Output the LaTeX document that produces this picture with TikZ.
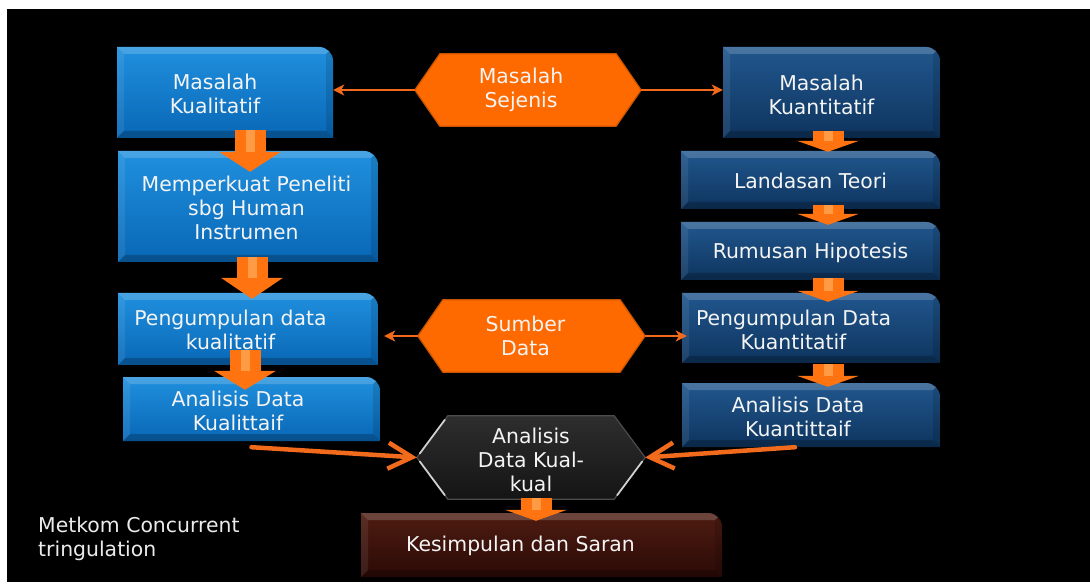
\documentclass[tikz,border=0pt]{standalone}
\usepackage{fontspec}
\setmainfont{DejaVu Sans}
\usetikzlibrary{arrows.meta,backgrounds,calc}
\definecolor{LBt}{HTML}{2090DE}
\definecolor{LBb}{HTML}{0867B6}
\definecolor{DBt}{HTML}{21578E}
\definecolor{DBb}{HTML}{0E345E}
\definecolor{BRt}{HTML}{4E1C12}
\definecolor{BRb}{HTML}{2B0A06}
\definecolor{OR}{HTML}{FF6A00}
\definecolor{ORd}{HTML}{C85400}
\definecolor{ARO}{HTML}{FF7410}
\definecolor{ARH}{HTML}{FF9A45}
\definecolor{LN}{HTML}{F26B1D}
\definecolor{TX}{HTML}{F4F4F4}
\tikzset{
  txt/.style={text=TX, align=center, font=\fontsize{20.4pt}{24pt}\selectfont, inner sep=0pt},
  bevelbox/.style n args={2}{inner sep=0pt, path picture={
     \path (path picture bounding box.south west) coordinate (bbsw)
           (path picture bounding box.north west) coordinate (bbnw)
           (path picture bounding box.north east) coordinate (bbne)
           (path picture bounding box.south east) coordinate (bbse);
     \begin{scope}
       \clip (bbsw) -- (bbnw) -- ([xshift=-14pt]bbne) arc[start angle=90,end angle=0,radius=14pt] -- (bbse) -- cycle;
       \shade[top color=#1, bottom color=#2] (bbsw) rectangle (bbne);
       \fill[white,opacity=.18] (bbnw) -- (bbne) -- ([shift={(-7pt,-7pt)}]bbne) -- ([shift={(7pt,-7pt)}]bbnw) -- cycle;
       \fill[white,opacity=.08] (bbnw) -- ([shift={(7pt,-7pt)}]bbnw) -- ([shift={(7pt,7pt)}]bbsw) -- (bbsw) -- cycle;
       \fill[black,opacity=.12] (bbne) -- (bbse) -- ([shift={(-7pt,7pt)}]bbse) -- ([shift={(-7pt,-7pt)}]bbne) -- cycle;
       \fill[black,opacity=.22] (bbsw) -- ([shift={(7pt,7pt)}]bbsw) -- ([shift={(-7pt,7pt)}]bbse) -- (bbse) -- cycle;
     \end{scope}
  }},
  lbox/.style={bevelbox={LBt}{LBb}},
  dbox/.style={bevelbox={DBt}{DBb}},
  brbox/.style={bevelbox={BRt}{BRb}},
  hexn/.style={inner sep=0pt},
  hexo/.style={fill=OR, draw=ORd, line width=1.2pt, line join=miter},
  hexk/.style={top color=black!82, bottom color=black!92, draw=black!70, line width=1.2pt},
  gloss/.style={white, opacity=.75, line width=1.8pt, line cap=round, shorten <=5pt, shorten >=5pt},
  thinarr/.style={draw=LN, line width=2.4pt, -{Stealth[length=11pt,width=11pt,inset=3pt]}},
  thickarr/.style={draw=LN, line width=4.5pt, line cap=round, -{Straight Barb[length=24pt,width=26pt]}},
  blk/.style={draw=ARO, line width=31pt, -{Triangle[length=#1,width=62pt,line width=0pt]},
              postaction={draw=ARH, line width=9pt, -, shorten >=#1}},
}
\begin{document}
\begin{tikzpicture}[x=1pt,y=1pt]
\path[use as bounding box] (0,0) rectangle (1090,-585);

% boxes
\node[lbox, minimum width=216pt, minimum height=91pt, label={[txt,xshift=-10pt,yshift=-1pt]center:Masalah\\Kualitatif}] (mql) at (225,-92.5) {};
\node[lbox, minimum width=260pt, minimum height=111pt, label={[txt,xshift=-1.5pt,yshift=-1.5pt]center:Memperkuat Peneliti\\sbg Human\\Instrumen}] (mpk) at (248,-206.5) {};
\node[lbox, minimum width=260pt, minimum height=72pt, label={[txt,xshift=-17.5pt,yshift=-1pt]center:Pengumpulan data\\kualitatif}] (pkl) at (248,-329) {};
\node[lbox, minimum width=257pt, minimum height=64pt, label={[txt,xshift=-13.5pt,yshift=-2pt]center:Analisis Data\\Kualittaif}] (akl) at (251.5,-409) {};
\node[dbox, minimum width=217pt, minimum height=91pt, label={[txt,xshift=-10pt,yshift=-2pt]center:Masalah\\Kuantitatif}] (mqn) at (831.5,-92.5) {};
\node[dbox, minimum width=259pt, minimum height=58pt, label={[txt,yshift=-1pt]center:Landasan Teori}] (lt) at (810.5,-180) {};
\node[dbox, minimum width=259pt, minimum height=58pt, label={[txt,yshift=-2pt]center:Rumusan Hipotesis}] (rh) at (810.5,-251) {};
\node[dbox, minimum width=258pt, minimum height=70pt, label={[txt,xshift=-17.5pt,yshift=-2pt]center:Pengumpulan Data\\Kuantitatif}] (pqn) at (811,-328) {};
\node[dbox, minimum width=258pt, minimum height=64pt, label={[txt,xshift=-13pt,yshift=-2pt]center:Analisis Data\\Kuantittaif}] (aqn) at (811,-415) {};
\node[brbox, minimum width=361pt, minimum height=64pt, label={[txt,xshift=-21pt,yshift=-1pt]center:Kesimpulan dan Saran}] (ks) at (541.5,-545) {};

% hexagon nodes
\node[hexn, minimum width=226pt, minimum height=72pt, label={[txt,xshift=-7pt]center:Masalah\\Sejenis}] (msj) at (528,-90) {};
\node[hexn, minimum width=227pt, minimum height=72pt, label={[txt,xshift=-6pt]center:Sumber\\Data}] (sd) at (531.5,-336) {};
\node[hexn, minimum width=228pt, minimum height=83pt, label={[txt,yshift=-2pt]center:Analisis\\Data Kual-\\kual}] (akk) at (531,-457.5) {};

\node[txt, align=left, anchor=west, text=black!8] (note) at (38,-539) {Metkom Concurrent\\tringulation};

\begin{scope}[on background layer]
  \fill[white] (0,0) rectangle (1090,-585);
  \fill[black] (7,-9) rectangle (1090,-582);
  \filldraw[hexo] (msj.west) -- ([xshift=25pt]msj.north west) -- ([xshift=-25pt]msj.north east) -- (msj.east) -- ([xshift=-25pt]msj.south east) -- ([xshift=25pt]msj.south west) -- cycle;
  \filldraw[hexo] (sd.west) -- ([xshift=25pt]sd.north west) -- ([xshift=-25pt]sd.north east) -- (sd.east) -- ([xshift=-25pt]sd.south east) -- ([xshift=25pt]sd.south west) -- cycle;
  \path[hexk] (akk.west) -- ([xshift=31pt]akk.north west) -- ([xshift=-31pt]akk.north east) -- (akk.east) -- ([xshift=-31pt]akk.south east) -- ([xshift=31pt]akk.south west) -- cycle;
  \draw[gloss] ([xshift=31pt]akk.north west) -- (akk.west);
  \draw[gloss] (akk.west) -- ([xshift=31pt]akk.south west);
  \draw[gloss] ([xshift=-31pt]akk.south east) -- (akk.east);
\end{scope}

% thin connectors
\draw[thinarr] (msj.west) -- (mql.east |- msj.west);
\draw[thinarr] (msj.east) -- (mqn.west |- msj.east);
\draw[thinarr, shorten >=6pt] (sd.west) -- (pkl.east |- sd.west);
\draw[thinarr, shorten >=-5pt] (sd.east) -- (pqn.west |- sd.east);

% thick connectors
\draw[thickarr] ([yshift=-6pt]akl.south) -- (akk.west);
\draw[thickarr] ([xshift=-16pt]aqn.south) -- (akk.east);

% block arrows
\coordinate (xLa) at (250,0);
\coordinate (xLb) at (252,0);
\coordinate (xLc) at (245,0);
\coordinate (xR) at (828,0);
\coordinate (xB) at (536,0);
\draw[blk=20pt] ($(mql.south -| xLa)+(0,8)$) -- ($(mpk.north -| xLa)+(0,-21)$);
\draw[blk=21pt] ($(mpk.south -| xLb)+(0,5)$) -- ($(pkl.north -| xLb)+(0,-6)$);
\draw[blk=19pt] ($(pkl.south -| xLc)+(0,15)$) -- ($(akl.north -| xLc)+(0,-13)$);
\draw[blk=11pt] ($(mqn.south -| xR)+(0,7)$) -- ($(lt.north -| xR)+(0,-1)$);
\draw[blk=11pt] ($(lt.south -| xR)+(0,4)$) -- ($(rh.north -| xR)+(0,-3)$);
\draw[blk=11pt] ($(rh.south -| xR)+(0,2)$) -- ($(pqn.north -| xR)+(0,-9)$);
\draw[blk=11pt] ($(pqn.south -| xR)+(0,-1)$) -- ($(aqn.north -| xR)+(0,-4)$);
\draw[blk=11pt] ($(akk.south -| xB)+(0,1)$) -- ($(ks.north -| xB)+(0,-8)$);
\end{tikzpicture}
\end{document}
